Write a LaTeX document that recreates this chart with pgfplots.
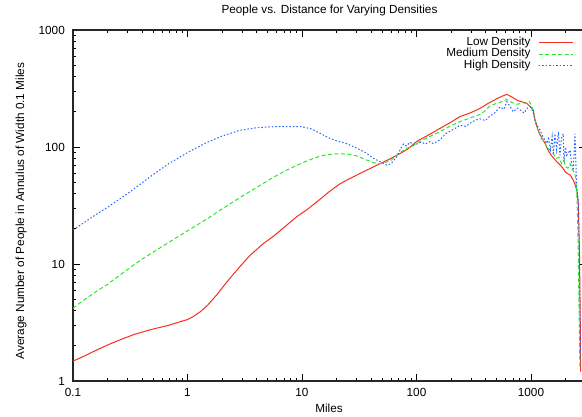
\documentclass[border=0pt]{standalone}
\usepackage{pgfplots}
\pgfplotsset{compat=1.18}
\usepackage{fontspec}
\setmainfont{Liberation Sans}
\definecolor{cred}{RGB}{245,45,30}
\definecolor{cgreen}{RGB}{45,230,45}
\definecolor{cblue}{RGB}{40,100,255}
\begin{document}
\fontsize{11.8}{14}\selectfont
\begin{tikzpicture}[x=1bp,y=1bp]
\useasboundingbox (0,0) rectangle (582,416);
\begin{axis}[
  at={(73bp,35bp)}, anchor=south west,
  scale only axis, width=512.6bp, height=351bp,
  xmode=log, ymode=log,
  xmin=0.1, xmax=3000, ymin=1, ymax=1000,
  xtick={0.1,1,10,100,1000}, xticklabels={0.1,1,10,100,1000},
  ytick={1,10,100,1000}, yticklabels={1,10,100,1000},
  minor xtick={0.2,0.3,0.4,0.5,0.6,0.7,0.8,0.9,2,3,4,5,6,7,8,9,20,30,40,50,60,70,80,90,200,300,400,500,600,700,800,900,2000},
  minor ytick={2,3,4,5,6,7,8,9,20,30,40,50,60,70,80,90,200,300,400,500,600,700,800,900},
  tick align=inside,
  major tick length=7bp, minor tick length=3.5bp,
  tick style={black, line width=0.8bp},
  axis line style={black!85, line width=1.4bp},
  ticklabel style={inner sep=0pt, font=\fontsize{11.8}{14}\selectfont},
  xticklabel style={yshift=-7bp},
  yticklabel style={xshift=-8bp},
  legend cell align=right,
  legend plot pos=right,
  legend image code/.code={\draw[#1] (0bp,0bp) -- (34bp,0bp);},
  legend style={draw=none, fill=none, at={(0.9755,0.980)}, anchor=north east,
    inner sep=0pt, outer sep=0pt, row sep=1.3bp, column sep=7.5bp,
    nodes={inner sep=0pt, text height=8bp, text depth=2.5bp},
    font=\fontsize{11.8}{14}\selectfont},
]
\addplot[cred, line width=1bp] coordinates {
(0.1,1.48)(0.12,1.60)(0.15,1.78)(0.2,2.03)(0.27,2.29)(0.35,2.52)(0.5,2.78)(0.7,3.01)(0.85,3.2)(1.0,3.35)(1.12,3.55)(1.3,3.92)(1.5,4.45)(1.8,5.45)(2.2,7.0)(2.87,9.5)(3.5,11.8)(4.5,14.7)(5.6,17.2)(7.0,20.6)(9.0,25.4)(11,29)(14,35)(17,41)(21.5,48.5)(25,52.5)(30,57.5)(40,66)(48,72)(60,80)(72,88)(85,97)(101,112)(130,128)(160,144)(200,163)(240,182)(300,197)(359,214)(420,235)(500,258)(560,272)(614,282)(680,268)(760,250)(850,242)(916,237)(980,222)(1047,207)(1084,170)(1150,140)(1250,118)(1325,108)(1400,95)(1465,88)(1550,82)(1676,75)(1800,70)(1900,66)(1983,61.7)(2100,59)(2200,57.6)(2343,52)(2420,48)(2510,43)(2590,33)(2620,20)(2650,13)(2680,5)(2700,2.6)(2710,1.2)
};
\addlegendentry{Low Density}
\addplot[cgreen, line width=1bp, dash pattern=on 4bp off 2.5bp] coordinates {
(0.1,4.18)(0.12,4.8)(0.15,5.6)(0.2,6.7)(0.3,9.0)(0.4,11.0)(0.5,12.6)(0.7,15.5)(1.0,19.2)(1.5,24.5)(2.0,29.5)(3.0,38)(4.0,45)(5.6,55)(7.5,64)(10,73)(13,81)(16,85.5)(20,87.5)(25,87)(30,84)(36,78)(42,73.5)(48,72)(52,73)(60,77)(70,88)(82,97.5)(90,100)(100,108)(120,118)(140,127)(160,135)(200,152)(240,165)(300,178)(360,190)(400,205)(438,225)(500,236)(560,245)(614,255)(680,240)(760,232)(850,238)(916,237)(970,245)(1020,220)(1080,175)(1150,140)(1230,118)(1300,112)(1372,100)(1450,95)(1530,90)(1600,85)(1676,80)(1750,82)(1850,72)(1940,76)(2000,68)(2100,66)(2200,72)(2300,64)(2420,60)(2510,42)(2560,22)(2600,9)(2640,3)(2680,1.3)
};
\addlegendentry{Medium Density}
\addplot[cblue, line width=1bp, dash pattern=on 1.5bp off 2bp] coordinates {
(0.1,19.5)(0.12,22)(0.15,25.5)(0.2,30.5)(0.3,40)(0.385,48)(0.5,58)(0.7,73)(1.05,92)(1.5,110)(2.0,124)(2.87,139)(4,146)(5.6,149)(7.5,149.5)(10,149)(12,143)(14.4,131)(17,120)(20,113)(24.5,107)(30,98)(36.7,88.5)(42,80)(48,75)(55,70)(60,72)(67,82)(72,95)(77,106)(82,102)(88,110)(94,104)(100,106)(110,110)(120,106)(131,111)(140,107)(160,115)(180,130)(200,138)(220,145)(240,154)(270,150)(300,162)(330,170)(359,174)(400,168)(440,185)(480,195)(537,220)(580,210)(614,244)(650,225)(700,200)(760,215)(808,207)(870,195)(930,215)(990,220)(1040,200)(1100,160)(1197,140)(1260,125)(1320,115)(1372,107)(1420,118)(1480,95)(1530,123)(1570,88)(1620,130)(1676,95)(1735,135)(1790,85)(1850,120)(1914,130)(1940,75)(2000,100)(2050,85)(2200,94)(2250,75)(2343,63)(2420,130)(2450,90)(2510,45)(2590,35)(2620,20)(2650,10)(2680,4)(2700,1.5)
};
\addlegendentry{High Density}
\end{axis}
\node[anchor=base] at (329.5,402) {People vs. Distance for Varying Densities};
\node[anchor=base] at (329,4) {Miles};
\node[anchor=base, rotate=90] at (24,205) {Average Number of People in Annulus of Width 0.1 Miles};
\end{tikzpicture}
\end{document}
